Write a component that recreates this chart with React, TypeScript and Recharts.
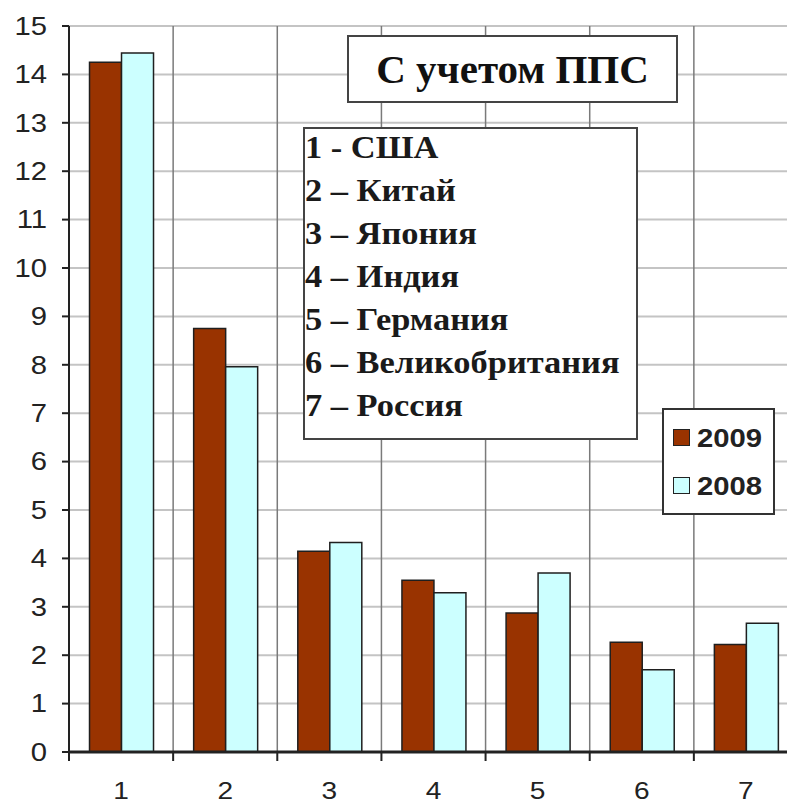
import { BarChart, Bar, XAxis, YAxis, CartesianGrid } from "recharts";

const CATEGORIES = ["1", "2", "3", "4", "5", "6", "7"];
const VALUES_2009 = [14.25, 8.75, 4.15, 3.55, 2.87, 2.27, 2.22];
const VALUES_2008 = [14.44, 7.96, 4.33, 3.29, 3.7, 1.7, 2.66];
const Y_TICKS = [0, 1, 2, 3, 4, 5, 6, 7, 8, 9, 10, 11, 12, 13, 14, 15];
const SERIES = [
  { key: "y2009", name: "2009", color: "#993300" },
  { key: "y2008", name: "2008", color: "#ccffff" },
];
const TITLE = "С учетом ППС";
const COUNTRIES = [
  "1 - США",
  "2 – Китай",
  "3 – Япония",
  "4 – Индия",
  "5 – Германия",
  "6 – Великобритания",
  "7 – Россия",
];

const data = CATEGORIES.map((c, i) => ({ cat: c, y2009: VALUES_2009[i], y2008: VALUES_2008[i] }));

const CHART_W = 820;
const CHART_H = 806;
const Y_W = 69;
const MARGIN = { top: 26, right: 22, left: 0, bottom: 14 };
const STEP = (CHART_W - Y_W - MARGIN.right) / CATEGORIES.length;

const SANS = "'Liberation Sans', Arial, sans-serif";
const SERIF = "'Liberation Serif', 'Times New Roman', serif";
const INK = "#222";
const STRETCH = 1.17; // the source picture is a little wide

const stretch = (x: number, y: number) => `translate(${x},${y}) scale(${STRETCH},1) translate(${-x},${-y})`;

// category label in the middle, tick mark on the category border
const XTick = ({ x, y, payload, index }: any) => {
  const left = x - STEP / 2;
  return (
    <g>
      <line x1={left} y1={y} x2={left} y2={y + 9} stroke={INK} strokeWidth={2} />
      {index === CATEGORIES.length - 1 && (
        <line x1={x + STEP / 2} y1={y} x2={x + STEP / 2} y2={y + 9} stroke={INK} strokeWidth={2} />
      )}
      <text x={x} y={y + 39} textAnchor="middle" dominantBaseline="central" transform={stretch(x, y + 39)}
        fill={INK} fontFamily={SANS} fontSize={24}>
        {payload.value}
      </text>
    </g>
  );
};

const YTick = ({ x, y, payload }: any) => (
  <text x={x} y={y} textAnchor="end" dominantBaseline="central" transform={stretch(x, y)}
    fill={INK} fontFamily={SANS} fontSize={25}>
    {payload.value}
  </text>
);

export default function App() {
  return (
    <div style={{ position: "fixed", left: 0, top: 0, width: 787, height: 806, overflow: "hidden", background: "#fff" }}>
      <BarChart width={CHART_W} height={CHART_H} data={data} margin={MARGIN}
        barCategoryGap="19.7%" barGap={0}>
        <CartesianGrid vertical={false} stroke="#c4c4c4" strokeWidth={2} />
        <CartesianGrid horizontal={false} stroke="#7a7a7a" strokeWidth={1.5}
          verticalCoordinatesGenerator={({ offset }: any) =>
            [...CATEGORIES, ""].map((_, i) => offset.left + (offset.width * i) / CATEGORIES.length)} />
        <XAxis dataKey="cat" height={40} tickSize={0} tickMargin={0} tickLine={false} interval={0}
          axisLine={{ stroke: INK, strokeWidth: 3 }} tick={<XTick />} />
        <YAxis width={Y_W} domain={[0, 15]} ticks={Y_TICKS} interval={0} tickSize={7} tickMargin={15}
          axisLine={{ stroke: INK, strokeWidth: 2 }} tickLine={{ stroke: INK, strokeWidth: 2 }}
          tick={<YTick />} />
        {SERIES.map((s) => (
          <Bar key={s.key} dataKey={s.key} name={s.name} fill={s.color} stroke="#1f1f1f" strokeWidth={1.5}
            isAnimationActive={false} />
        ))}
      </BarChart>

      <div style={{ position: "absolute", left: 347, top: 35, width: 331, height: 68, boxSizing: "border-box",
        border: "2px solid #444", background: "#fff", display: "flex", alignItems: "center", justifyContent: "center",
        fontFamily: SERIF, fontWeight: "bold", fontSize: 41, color: "#111" }}>
        {TITLE}
      </div>

      <div style={{ position: "absolute", left: 303, top: 127, width: 335, height: 313, boxSizing: "border-box",
        border: "2px solid #444", background: "#fff", overflow: "hidden" }}>
        <div style={{ marginTop: -3, transform: "scaleX(1.11)", transformOrigin: "0 0",
          fontFamily: SERIF, fontWeight: "bold", fontSize: 31, lineHeight: "43px", color: "#1a1a1a" }}>
          {COUNTRIES.map((c) => <div key={c} style={{ whiteSpace: "nowrap" }}>{c}</div>)}
        </div>
      </div>

      <div style={{ position: "absolute", left: 662, top: 408, width: 113, height: 107, boxSizing: "border-box",
        border: "2px solid #333", background: "#fff", display: "flex", flexDirection: "column",
        justifyContent: "center", gap: 22, paddingLeft: 9 }}>
        {SERIES.map((s) => (
          <div key={s.name} style={{ display: "flex", alignItems: "center", gap: 7 }}>
            <span style={{ width: 15, height: 15, flexShrink: 0, background: s.color, border: "1.5px solid #222", display: "inline-block" }} />
            <span style={{ display: "inline-block", transform: `scaleX(${STRETCH})`, transformOrigin: "0 50%",
              fontFamily: SANS, fontWeight: "bold", fontSize: 25, color: INK, lineHeight: "26px" }}>{s.name}</span>
          </div>
        ))}
      </div>
    </div>
  );
}
